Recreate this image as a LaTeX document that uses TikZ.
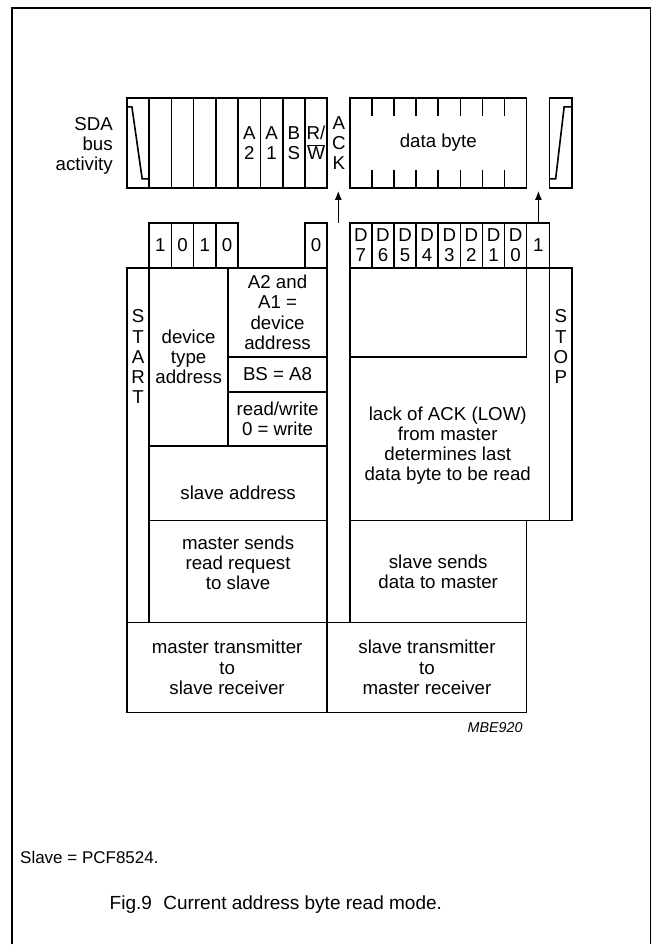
\documentclass[tikz,border=0pt]{standalone}
\usepackage{fontspec}
\setmainfont{Liberation Sans}
\usetikzlibrary{arrows.meta,positioning}

\begin{document}
\begin{tikzpicture}[
    x=1pt, y=-1pt,
    box/.style={rectangle, draw, line width=1.6pt, inner sep=0pt, outer sep=0pt, align=center, font=\fontsize{18.7}{20.3}\selectfont},
    txt/.style={inner sep=0pt, align=center, font=\fontsize{18.7}{20.3}\selectfont},
    sdabit/.style={box, minimum width=22.27pt, minimum height=90pt},
    adrbit/.style={box, minimum width=22.27pt, minimum height=45pt},
    databit/.style={box, minimum width=22.125pt, minimum height=45pt},
    sdaline/.style={line width=1.6pt},
    tick/.style={line width=1.6pt},
    arrow/.style={-{Latex[length=9pt,width=7pt]}, line width=1.2pt},
    frame/.style={line width=1.2pt}
]

% Page
\fill[white] (0,0) rectangle (655,945);
\coordinate (frametl) at (12,8);
\coordinate (framebr) at (651,945);
\draw[frame] (frametl |- framebr) -- (frametl) -| (framebr);

% SDA bus activity
\node[txt, align=right, anchor=east] (sdalabel) at (113,146) {SDA\\bus\\activity};
\foreach \i/\lbl in {0/{},1/{},2/{},3/{},4/{},5/{A\\2},6/{A\\1},7/{B\\S},8/{R/\\$\overline{\mbox{W}}$}}
  \node[sdabit] (sda\i) at ({138.13+\i*22.27},143) {\lbl};
\draw[sdaline] ([yshift=-9pt]sda0.north west) -- ++(5,0) -- ([xshift=-7pt,yshift=9pt]sda0.south east) -- ([yshift=9pt]sda0.south east);

\node[txt] (ack) at (339,143) {A\\C\\K};

% Data byte
\node[box, minimum width=177pt, minimum height=90pt] (databyte) at (438.5,143) {data byte};
\foreach \k in {1,...,7} {
  \draw[tick] ([xshift=\k*22.125pt]databyte.north west) -- ++(0,18);
  \draw[tick] ([xshift=\k*22.125pt]databyte.south west) -- ++(0,-18);
}

% Stop
\node[sdabit, minimum width=22.5pt] (sdastop) at (561.25,143) {};
\draw[sdaline] ([yshift=9pt]sdastop.south west) -- ++(6,0) -- ([xshift=-8pt,yshift=-9pt]sdastop.north east) -- ([yshift=-9pt]sdastop.north east);

% Address bits
\foreach \i/\b in {1/1,2/0,3/1,4/0,8/0}
  \node[adrbit] (adr\i) at ({138.13+\i*22.27},245.5) {\b};

% Data bits
\foreach \k in {7,...,0}
  \node[databit] (d\k) at ({350+(7.5-\k)*22.125},245.5) {D\\\k};
\node[txt, minimum width=22.5pt, minimum height=45pt] (ackone) at (538.75,245.5) {1};

% Left block
\node[box, minimum width=22.27pt, minimum height=355pt] (start) at (138.13,445.5) {};
\node[txt] (starttext) at (138.13,357) {S\\T\\A\\R\\T};
\node[box, minimum width=79pt, minimum height=178pt] (devtype) at (188.75,357) {device\\type\\address};
\node[box, minimum width=99pt, minimum height=89pt] (a2a1) at (277.75,312.5) {A2 and\\A1 =\\device\\address};
\node[box, minimum width=99pt, minimum height=35pt] (bsbox) at (277.75,374.5) {BS = A8};
\node[box, minimum width=99pt, minimum height=54pt] (rwbox) at (277.75,419) {read/write\\0 = write};
\node[box, minimum width=178pt, minimum height=75pt] (slaveaddr) at (238.25,483.5) {};
\node[txt] (slaveaddrtext) at (238.25,493) {slave address};
\node[box, minimum width=178pt, minimum height=102pt] (mastersends) at (238.25,572) {};
\node[txt] (mastersendstext) at (238.25,563) {master sends\\read request\\to slave};

% Right block
\node[box, minimum width=200pt, minimum height=253pt] (lackbox) at (450,394.5) {};
\node[box, minimum width=177pt, minimum height=89pt] (innerbox) at (438.5,312.5) {};
\node[txt] (lacktext) at (448,446) {lack of ACK (LOW)\\from master\\determines last\\data byte to be read};
\draw[sdaline] (innerbox.north east) -- ++(0,-45) -| (lackbox.north east);
\node[box, minimum width=22.5pt, minimum height=253pt] (stop) at (561.25,394.5) {};
\node[txt] (stoptext) at (561.25,347) {S\\T\\O\\P};
\node[box, minimum width=177pt, minimum height=102pt] (slavesends) at (438.5,572) {slave sends\\data to master};

% Bottom boxes
\node[box, minimum width=200.5pt, minimum height=90pt] (mtsr) at (227.25,668) {master transmitter\\to\\slave receiver};
\node[box, minimum width=199.5pt, minimum height=90pt] (stmr) at (427.25,668) {slave transmitter\\to\\master receiver};
\node[anchor=east, inner sep=0pt, font=\fontsize{14.3}{16}\selectfont\itshape] (mbe) at (523,728) {MBE920};

% Arrows
\coordinate (acktail) at (338.5,223);
\coordinate (ackhead) at (338.5,191);
\coordinate (onehead) at (538.75,191);
\draw[arrow] (acktail) -- (ackhead);
\draw[arrow] (ackone.north) -- (onehead);

% Notes
\node[anchor=west, inner sep=0pt, font=\fontsize{17}{19}\selectfont] (slavenote) at (20,858) {Slave = PCF8524.};
\node[inner sep=0pt, font=\fontsize{19}{22}\selectfont] (caption) at (276,905) {Fig.9\hspace{0.6em}Current address byte read mode.};

\end{tikzpicture}
\end{document}
